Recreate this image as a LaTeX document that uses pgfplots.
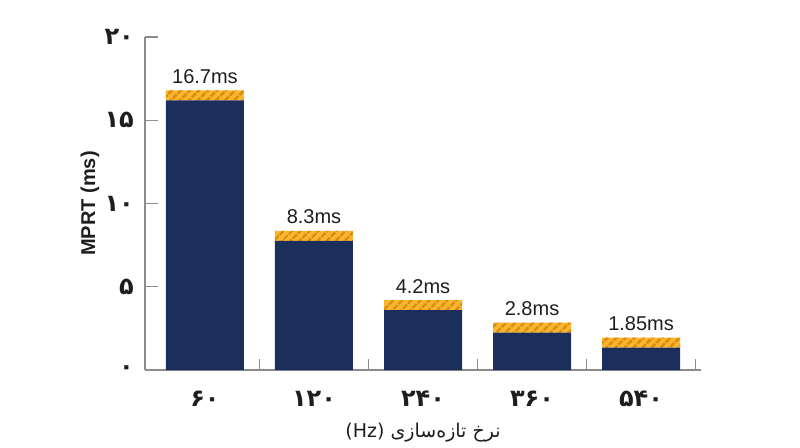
\documentclass[border=0pt]{standalone}
\usepackage{fontspec}
\setmainfont{Liberation Sans}
\newfontfamily\fa[Script=Arabic]{DejaVu Sans}
\TeXXeTstate=1
\usepackage{pgfplots}
\usepackage{pgfplotstable}
\pgfplotsset{compat=1.18}
\usetikzlibrary{patterns.meta}
\definecolor{navy}{HTML}{1C2E5B}
\definecolor{orng}{HTML}{F7B531}
\definecolor{stripe}{HTML}{E08B04}
\definecolor{axgray}{HTML}{8C8C8C}
\definecolor{txt}{HTML}{1E1E1E}
\pgfplotstableread{
x base top label
0 16.2 0.6 16.7ms
1 7.75 0.6 8.3ms
2 3.6 0.6 4.2ms
3 2.24 0.6 2.8ms
4 1.35 0.6 1.85ms
}\data
\begin{document}
\begin{tikzpicture}
\useasboundingbox (-145pt,-77pt) rectangle (655pt,370pt);
\begin{axis}[
  at={(0,0)}, anchor=south west,
  width=556pt, height=333pt, scale only axis,
  ybar stacked, bar width=78pt,
  xmin=-0.55, xmax=4.55, ymin=0, ymax=20,
  axis x line=bottom, axis y line=left,
  axis line style={-, draw=axgray, line width=1.2pt},
  xtick={0,1,2,3,4},
  xticklabels={۶۰,۱۲۰,۲۴۰,۳۶۰,۵۴۰},
  minor xtick={0.5,1.5,2.5,3.5,4.5},
  xtick style={draw=none},
  minor x tick style={draw=axgray, line width=1.2pt},
  minor tick length=11pt,
  ytick={0,5,10,15,20},
  yticklabels={۰,۵,۱۰,۱۵,۲۰},
  ytick style={draw=axgray, line width=1.2pt},
  major tick length=13pt,
  tick align=inside,
  xticklabel style={font=\fa\bfseries\fontsize{24}{28}\selectfont, text=txt, anchor=center, yshift=-29pt},
  yticklabel style={font=\fa\bfseries\fontsize{24}{28}\selectfont, text=txt, anchor=east, inner sep=0pt, xshift=-11pt},
  every axis x label/.style={at={([yshift=-63pt]axis description cs:0.5,0)}, anchor=center, font=\fa\fontsize{19}{22}\selectfont, text=txt},
  every axis y label/.style={at={([xshift=-55pt]axis description cs:0,0.5)}, anchor=center, rotate=90, font=\bfseries\fontsize{20}{24}\selectfont, text=txt},
  xlabel={\beginR نرخ تازه‌سازی \beginL(Hz)\endL\endR},
  ylabel={MPRT (ms)},
  clip=false,
]
\addplot[fill=navy, draw=none] table[x=x, y=base] {\data};
\addplot[fill=orng, draw=none,
  postaction={pattern={Lines[angle=45,distance=6.5pt,line width=2.8pt]}, pattern color=stripe},
  point meta=explicit symbolic,
  nodes near coords,
  every node near coord/.append style={anchor=base, yshift=12pt, font=\fontsize{20}{24}\selectfont, text=txt},
] table[x=x, y=top, meta=label] {\data};
\end{axis}
\end{tikzpicture}
\end{document}
